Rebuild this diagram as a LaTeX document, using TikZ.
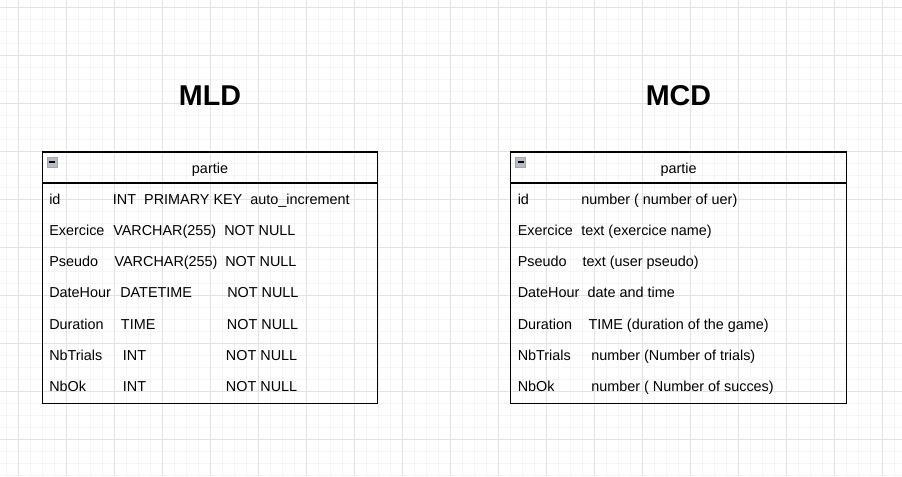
\documentclass[tikz,border=0pt]{standalone}
\usepackage{fontspec}
\setmainfont{Liberation Sans}
\usetikzlibrary{calc, positioning}
\definecolor{gridmajor}{HTML}{E2E2E2}
\definecolor{gridminor}{HTML}{F4F4F4}
\definecolor{togglefill}{HTML}{B8BCC8}
\tikzset{
  entity/.style={
    rectangle, draw=black, line width=0.8pt, minimum width=251.4pt,
    minimum height=188.6pt, inner sep=0pt
  },
  header/.style={
    anchor=base, inner sep=0pt, font=\fontsize{10.8}{13}\selectfont
  },
  field/.style={
    anchor=base west, inner sep=0pt, font=\fontsize{10.8}{13}\selectfont
  },
  title/.style={
    inner sep=0pt, font=\fontsize{21.5}{26}\selectfont\bfseries
  },
  toggle/.style={
    rectangle, draw=gray!70, fill=togglefill, minimum size=7.5pt, inner sep=0pt,
    path picture={\draw[black, line width=1pt]
      ([xshift=1.5pt]path picture bounding box.west) --
      ([xshift=-1.5pt]path picture bounding box.east);}
  },
  grid_minor/.style={gridminor, line width=0.75pt},
  grid_major/.style={gridmajor, line width=0.75pt}
}

\begin{document}
\begin{tikzpicture}[x=0.75pt, y=-0.75pt]

\useasboundingbox[fill=white] (0,0) rectangle (902,476);

% background grid
\foreach \gx in {6,18,...,898} \draw[grid_minor] (\gx,0) -- (\gx,476);
\foreach \gy in {7,19,...,475} \draw[grid_minor] (0,\gy) -- (902,\gy);
\foreach \gx in {18,66,...,898} \draw[grid_major] (\gx,0) -- (\gx,476);
\foreach \gy in {7,55,...,475} \draw[grid_major] (0,\gy) -- (902,\gy);

% MLD
\node[title] (mld_title) at (210,96) {MLD};

\node[entity] (mld_box) at (210.25,277.75) {};
\draw[line width=0.8pt] ($(mld_box.north west)+(0,31.5)$) -- ($(mld_box.north east)+(0,31.5)$);
\node[toggle] (mld_toggle) at (52,162) {};
\node[header] (mld_name) at (210,173) {partie};

\node[field] (mld_id) at (49,204) {id};
\node[field] (mld_id_type) at (112.7,204) {INT~~PRIMARY KEY~~auto\_increment};

\node[field] (mld_exercice) at (49,235.3) {Exercice};
\node[field] (mld_exercice_type) at (113,235.3) {VARCHAR(255)};
\node[field] (mld_exercice_null) at (224,235.3) {NOT NULL};

\node[field] (mld_pseudo) at (49,266.6) {Pseudo};
\node[field] (mld_pseudo_type) at (114.3,266.6) {VARCHAR(255)};
\node[field] (mld_pseudo_null) at (225,266.6) {NOT NULL};

\node[field] (mld_datehour) at (49,297.9) {DateHour};
\node[field] (mld_datehour_type) at (120,297.9) {DATETIME};
\node[field] (mld_datehour_null) at (227,297.9) {NOT NULL};

\node[field] (mld_duration) at (49,329.2) {Duration};
\node[field] (mld_duration_type) at (120.7,329.2) {TIME};
\node[field] (mld_duration_null) at (226.7,329.2) {NOT NULL};

\node[field] (mld_nbtrials) at (49,360.5) {NbTrials};
\node[field] (mld_nbtrials_type) at (122.7,360.5) {INT};
\node[field] (mld_nbtrials_null) at (225.7,360.5) {NOT NULL};

\node[field] (mld_nbok) at (49,391.8) {NbOk};
\node[field] (mld_nbok_type) at (122.7,391.8) {INT};
\node[field] (mld_nbok_null) at (225.7,391.8) {NOT NULL};

% MCD
\node[title] (mcd_title) at (678.5,96) {MCD};

\node[entity] (mcd_box) at (678.5,277.75) {};
\draw[line width=0.8pt] ($(mcd_box.north west)+(0,31.5)$) -- ($(mcd_box.north east)+(0,31.5)$);
\node[toggle] (mcd_toggle) at (520.5,162) {};
\node[header] (mcd_name) at (678.5,173) {partie};

\node[field] (mcd_id) at (517.5,204) {id};
\node[field] (mcd_id_desc) at (581,204) {number ( number of uer)};

\node[field] (mcd_exercice) at (517.5,235.3) {Exercice};
\node[field] (mcd_exercice_desc) at (581,235.3) {text (exercice name)};

\node[field] (mcd_pseudo) at (517.5,266.6) {Pseudo};
\node[field] (mcd_pseudo_desc) at (582.3,266.6) {text (user pseudo)};

\node[field] (mcd_datehour) at (517.5,297.9) {DateHour};
\node[field] (mcd_datehour_desc) at (587.3,297.9) {date and time};

\node[field] (mcd_duration) at (517.5,329.2) {Duration};
\node[field] (mcd_duration_desc) at (588.3,329.2) {TIME (duration of the game)};

\node[field] (mcd_nbtrials) at (517.5,360.5) {NbTrials};
\node[field] (mcd_nbtrials_desc) at (591,360.5) {number (Number of trials)};

\node[field] (mcd_nbok) at (517.5,391.8) {NbOk};
\node[field] (mcd_nbok_desc) at (591,391.8) {number ( Number of succes)};

\end{tikzpicture}
\end{document}
